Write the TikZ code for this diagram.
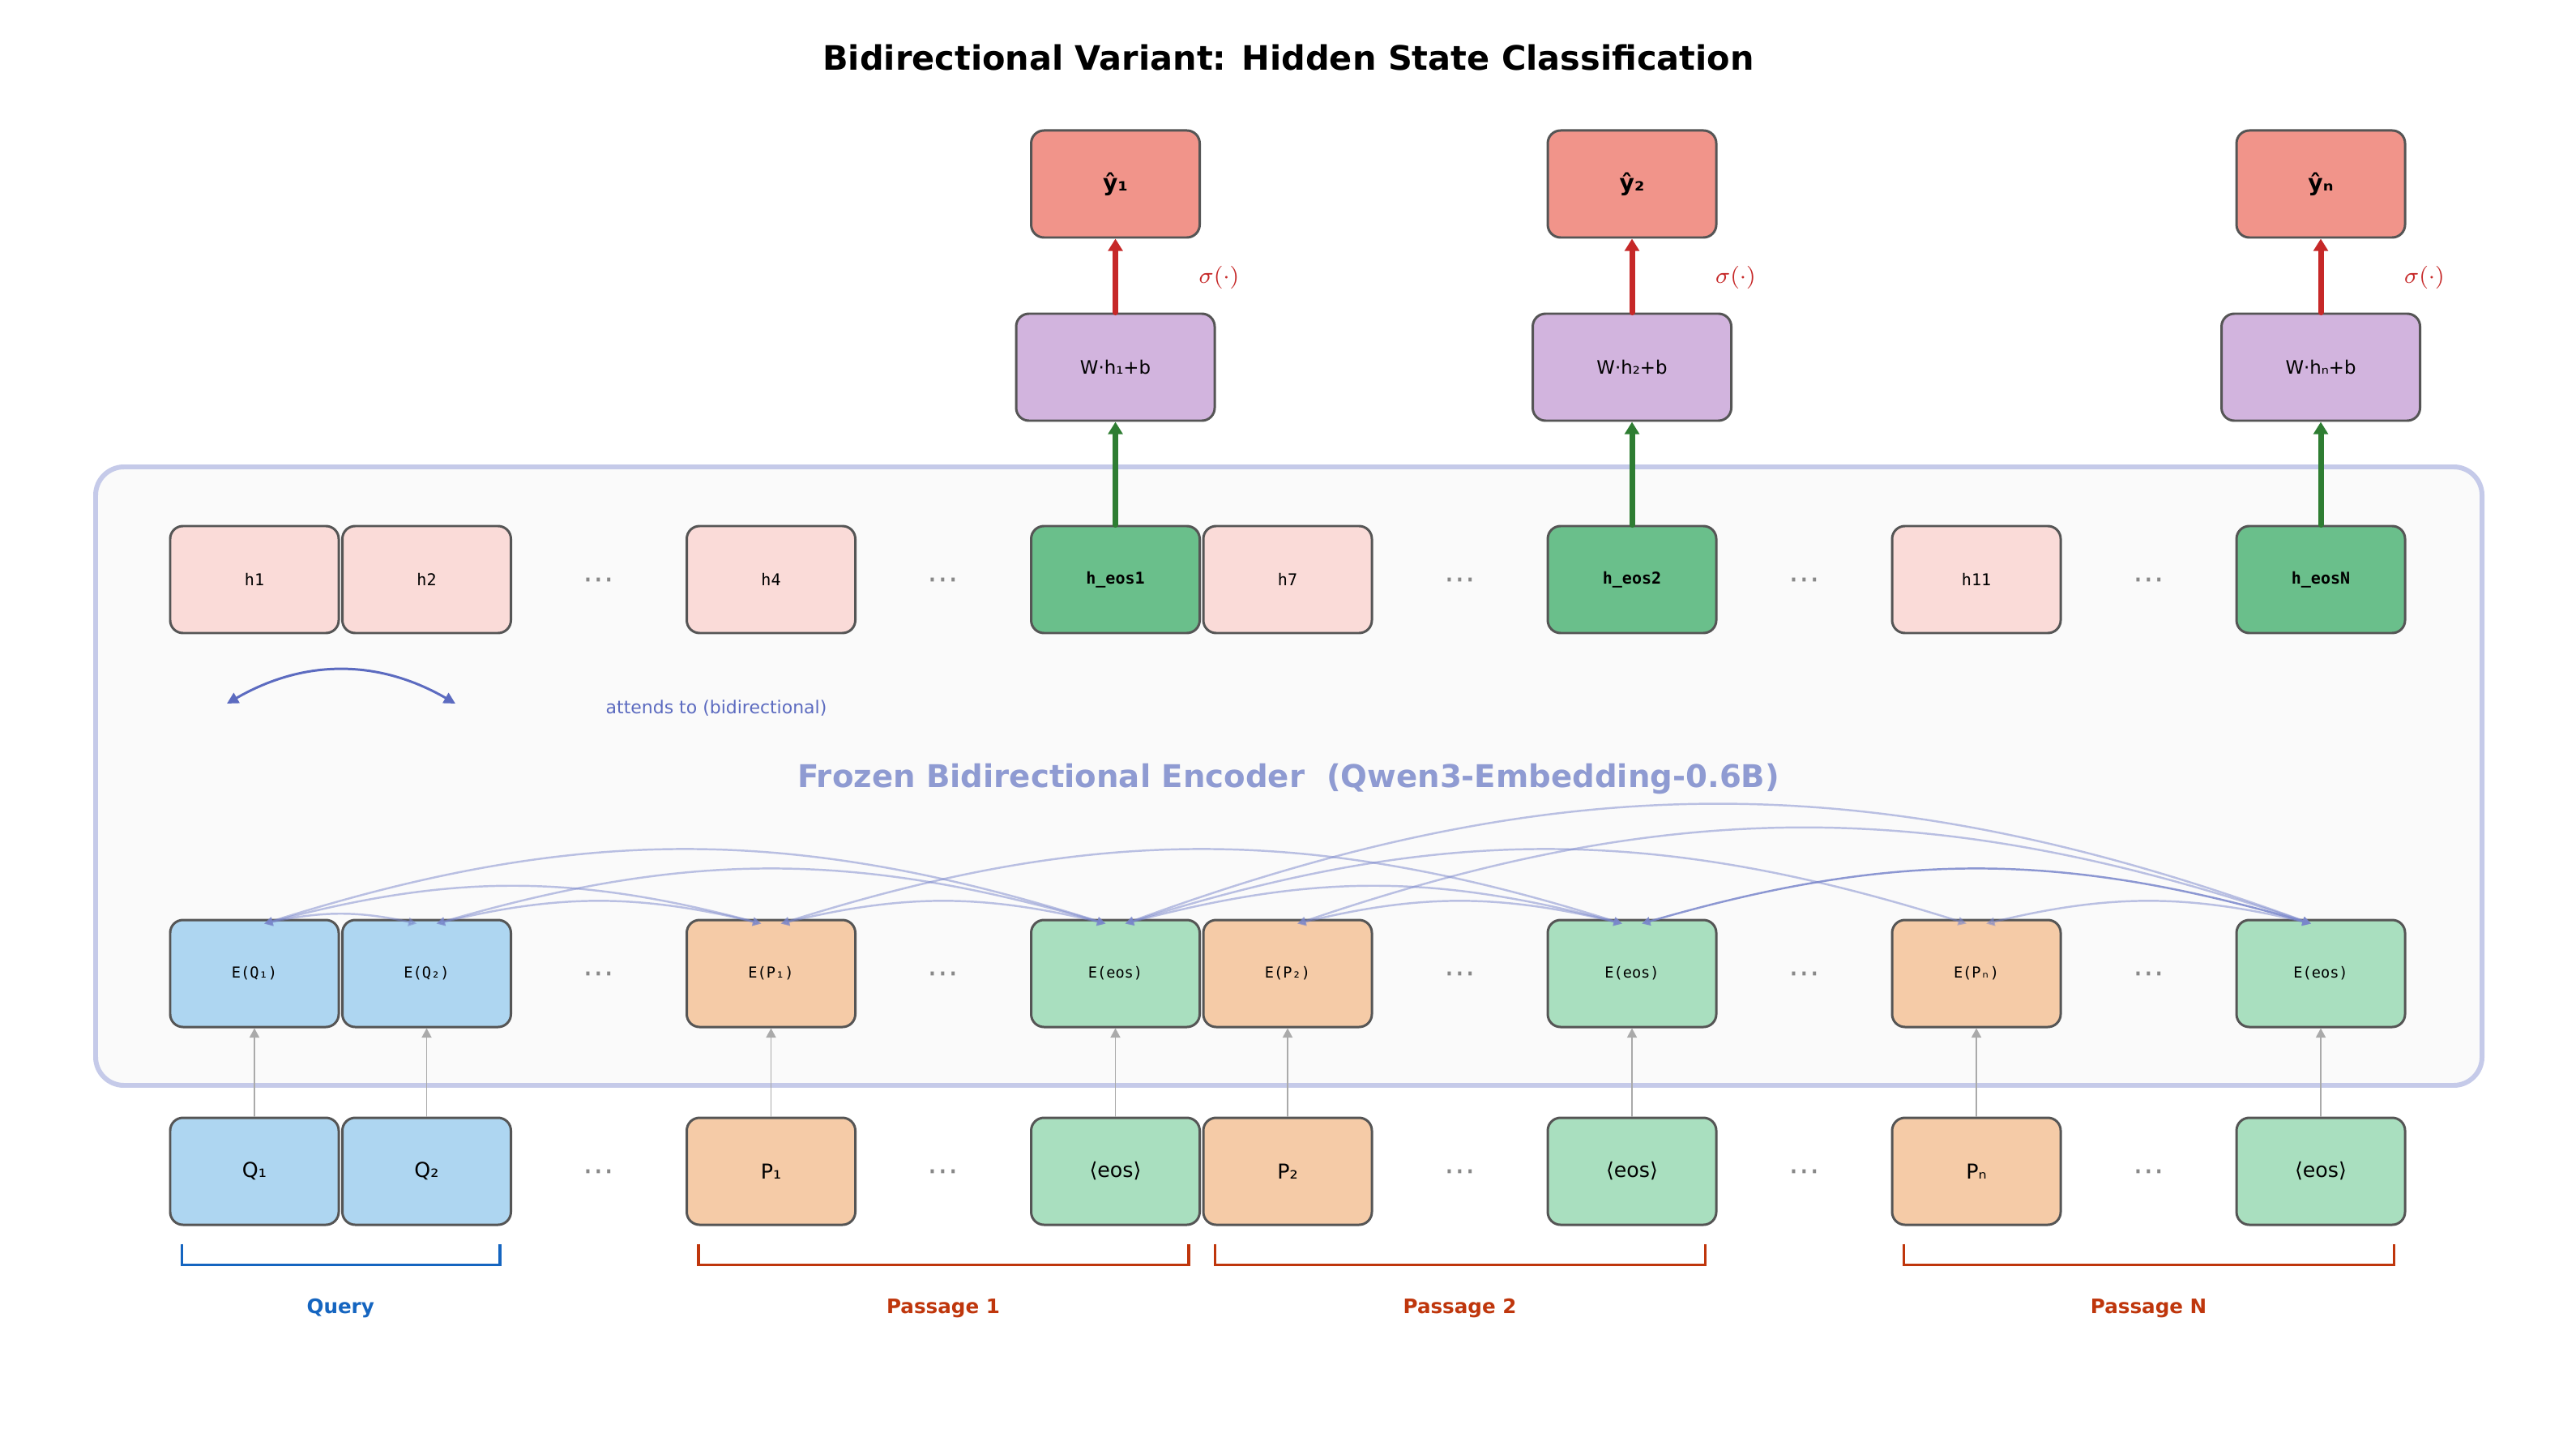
\documentclass[tikz,border=0pt]{standalone}
\usepackage{fontspec}
\setmainfont{DejaVu Sans}
\newfontfamily\monofont{DejaVu Sans Mono}
\usetikzlibrary{arrows.meta,calc}

\definecolor{edgegray}{HTML}{555555}
\definecolor{hpink}{HTML}{FADBD8}
\definecolor{hgreen}{HTML}{6ABF8B}
\definecolor{wpurple}{HTML}{D2B4DE}
\definecolor{ysalmon}{HTML}{F1948A}
\definecolor{qblue}{HTML}{AED6F1}
\definecolor{pora}{HTML}{F5CBA7}
\definecolor{eosg}{HTML}{A9DFBF}
\definecolor{encline}{HTML}{C5CAE9}
\definecolor{encfill}{HTML}{FAFAFA}
\definecolor{enctext}{HTML}{8F9BD2}
\definecolor{attn}{HTML}{7986CB}
\definecolor{attdark}{HTML}{5C6BC0}
\definecolor{upgreen}{HTML}{2E7D32}
\definecolor{upred}{HTML}{C62828}
\definecolor{ingray}{HTML}{AAAAAA}
\definecolor{dotgray}{HTML}{888888}
\definecolor{qline}{HTML}{1565C0}
\definecolor{pline}{HTML}{BF360C}

\begin{document}
\begin{tikzpicture}[
    box/.style={draw=edgegray, line width=0.85pt, rounded corners=4.5pt, minimum width=2.08cm, minimum height=1.32cm, inner sep=0pt},
    hst/.style={box, fill=hpink, font=\monofont\fontsize{5.7}{6}\selectfont},
    heos/.style={box, fill=hgreen, font=\monofont\bfseries\fontsize{5.7}{6}\selectfont},
    wbox/.style={box, fill=wpurple, minimum width=2.45cm, font=\fontsize{6.5}{8}\selectfont},
    outbox/.style={box, fill=ysalmon, font=\bfseries\fontsize{8}{10}\selectfont},
    emb/.style={box, font=\monofont\fontsize{5.3}{6}\selectfont},
    inp/.style={box, font=\fontsize{7.2}{8}\selectfont},
    dots/.style={text=dotgray, font=\fontsize{11}{12}\selectfont, inner sep=0pt},
    sig/.style={text=upred, font=\fontsize{8}{10}\selectfont},
    grplbl/.style={font=\bfseries\fontsize{7}{8}\selectfont},
    uparr/.style={line width=2pt, line cap=round, -{Triangle[length=4.3pt,width=5pt]}},
    inarr/.style={ingray, line width=0.55pt, -{Triangle[length=3.3pt,width=3.4pt]}},
    attnarc/.style={attn, line width=0.7pt, {Triangle[length=3pt,width=3pt]}-{Triangle[length=3pt,width=3pt]}},
    brk/.style={line width=1pt}
]
\fill[white] (0,0) rectangle (31.79,-17.79);
\useasboundingbox (0,0) rectangle (31.79,-17.79);

\node[font=\bfseries\fontsize{11.8}{14}\selectfont] (title) at (15.90,-0.71) {Bidirectional Variant: Hidden State Classification};

\draw[encline, fill=encfill, line width=1.7pt, rounded corners=0.35cm] (1.18,-5.76) rectangle (30.63,-13.39);
\node[text=enctext, font=\bfseries\fontsize{11}{13}\selectfont] (enclbl) at (15.90,-9.61) {Frozen Bidirectional Encoder~~(Qwen3-Embedding-0.6B)};

\foreach \c/\t in {0/h1, 1/h2, 3/h4, 6/h7, 10/h11}
    \node[hst] (h\c) at ({3.14+2.125*\c},-7.15) {\t};
\foreach \c/\t in {5/h\_eos1, 8/h\_eos2, 12/h\_eosN}
    \node[heos] (h\c) at ({3.14+2.125*\c},-7.15) {\t};

\foreach \c/\t/\f in {0/E(Q₁)/qblue, 1/E(Q₂)/qblue, 3/E(P₁)/pora, 5/E(eos)/eosg, 6/E(P₂)/pora, 8/E(eos)/eosg, 10/E(Pₙ)/pora, 12/E(eos)/eosg}
    \node[emb, fill=\f] (e\c) at ({3.14+2.125*\c},-12.01) {\t};
\foreach \c/\t/\f in {0/Q₁/qblue, 1/Q₂/qblue, 3/P₁/pora, 5/⟨eos⟩/eosg, 6/P₂/pora, 8/⟨eos⟩/eosg, 10/Pₙ/pora, 12/⟨eos⟩/eosg}
    \node[inp, fill=\f] (i\c) at ({3.14+2.125*\c},-14.45) {\t};

\foreach \c in {2,4,7,9,11} {
    \node[dots] (dh\c) at ({3.14+2.125*\c},-7.20) {⋯};
    \node[dots] (de\c) at ({3.14+2.125*\c},-12.06) {⋯};
    \node[dots] (di\c) at ({3.14+2.125*\c},-14.50) {⋯};
}

\foreach \c/\s in {5/₁, 8/₂, 12/ₙ} {
    \node[wbox] (w\c) at ({3.14+2.125*\c},-4.53) {W·h\s+b};
    \node[outbox] (y\c) at ({3.14+2.125*\c},-2.27) {ŷ\s};
    \node[sig] (s\c) at ({3.14+2.125*\c+1.28},-3.42) {$\sigma(\cdot)$};
    \draw[uparr, upgreen] (h\c) -- (w\c);
    \draw[uparr, upred] (w\c) -- (y\c);
}

\foreach \c in {0,1,3,5,6,8,10,12}
    \draw[inarr] (i\c) -- (e\c);

\foreach \a/\b/\o in {0/1/0.5, 0/3/0.5, 0/5/0.5, 1/3/0.5, 1/5/0.5, 3/5/0.5, 3/8/0.5, 5/8/0.5, 5/10/0.5, 5/12/0.5, 6/8/0.5, 6/12/0.5, 8/12/0.85, 10/12/0.5} {
    \pgfmathsetmacro\ang{11+1.3*(\b-\a)}
    \draw[attnarc, opacity=\o] ([xshift=0.12cm,yshift=-0.06cm]e\a.north) to[bend left=\ang] ([xshift=-0.12cm,yshift=-0.06cm]e\b.north);
}

\coordinate (al) at (2.80,-8.68);
\coordinate (ar) at (5.62,-8.68);
\draw[attdark, line width=0.85pt, {Triangle[length=4pt,width=4pt]}-{Triangle[length=4pt,width=4pt]}] (al) to[bend left=30] (ar);
\node[text=attdark, font=\fontsize{6.25}{8}\selectfont] (attlbl) at (8.84,-8.74) {attends to (bidirectional)};

\foreach \l/\r/\col/\t in {0/1/qline/Query, 3/5/pline/Passage 1, 6/8/pline/Passage 2, 10/12/pline/Passage N} {
    \draw[brk, \col] ([xshift=0.16cm,yshift=-0.22cm]i\l.south west) -- ([xshift=0.16cm,yshift=-0.48cm]i\l.south west) -- ([xshift=-0.15cm,yshift=-0.48cm]i\r.south east) -- ([xshift=-0.15cm,yshift=-0.22cm]i\r.south east);
    \node[grplbl, text=\col] (g\l) at ($(i\l.south west)!0.5!(i\r.south east) + (0,-1.02)$) {\t};
}
\end{tikzpicture}
\end{document}
